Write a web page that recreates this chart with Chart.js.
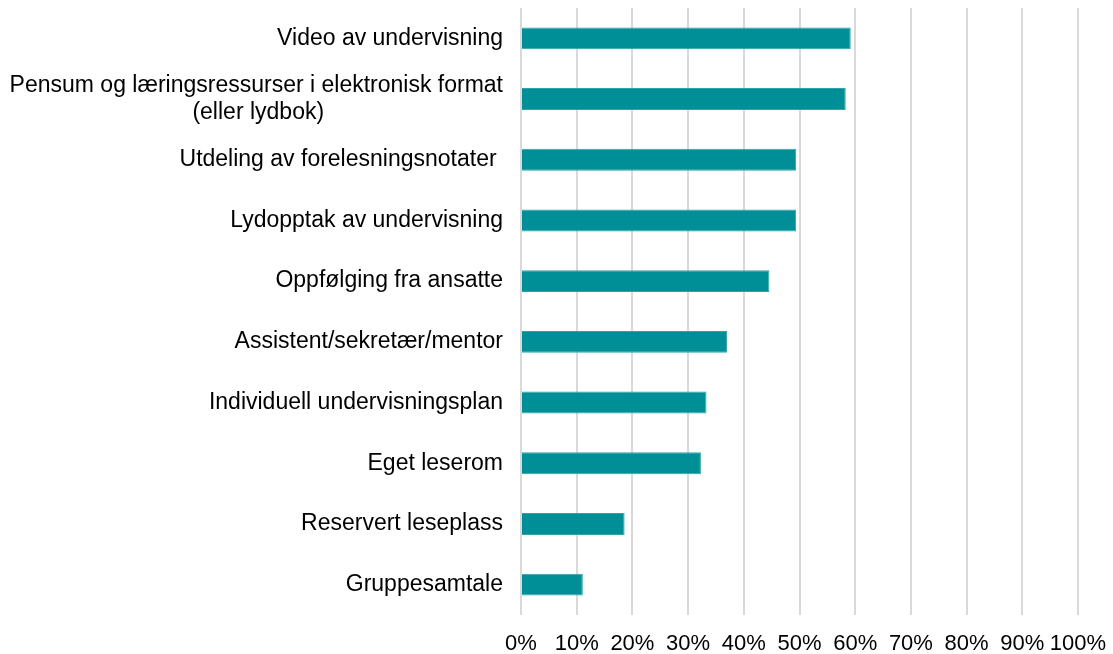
<!DOCTYPE html>
<html>
<head>
<meta charset="utf-8">
<script src="https://cdn.jsdelivr.net/npm/chart.js@4/dist/chart.umd.min.js"></script>
<style>
  html, body { margin: 0; padding: 0; background: #fff; }
  #wrap { width: 1113px; height: 654px; position: relative; }
</style>
</head>
<body>
<div id="wrap"><canvas id="barChart"></canvas></div>
<script>
// categories (top to bottom) and share of respondents in %
var categories = [
    "Video av undervisning",
    ["Pensum og læringsressurser i elektronisk format", "(eller lydbok)"],
    "Utdeling av forelesningsnotater ",
    "Lydopptak av undervisning",
    "Oppfølging fra ansatte",
    "Assistent/sekretær/mentor",
    "Individuell undervisningsplan",
    "Eget leserom",
    "Reservert leseplass",
    "Gruppesamtale"
];
var values = [59.2, 58.3, 49.4, 49.4, 44.6, 37.0, 33.3, 32.3, 18.6, 11.1];
var xTicks = [0, 10, 20, 30, 40, 50, 60, 70, 80, 90, 100];

var labelFont = { family: "'Liberation Sans', Arial, sans-serif", size: 23, lineHeight: 1.17 };
var tickFont = { family: "'Liberation Sans', Arial, sans-serif", size: 22 };

// centre the second line of the two-line label under the first one
var ctx = document.createElement("canvas").getContext("2d");
ctx.font = labelFont.size + "px " + labelFont.family;
categories = categories.map(function (c) {
    if (!Array.isArray(c)) return c;
    var w1 = ctx.measureText(c[0]).width;
    var line2 = c[1];
    while (ctx.measureText(line2 + " ").width <= (w1 + ctx.measureText(c[1]).width) / 2) {
        line2 += " ";
    }
    return [c[0], line2];
});

var barCanvas = document.getElementById("barChart");

var barData = {
    labels: categories,
    datasets: [{
        data: values,
        backgroundColor: "#008f96",
        borderColor: "#2ea3a8",
        borderWidth: 1,
        barPercentage: 0.36,
        categoryPercentage: 1
    }]
};

var chartOptions = {
    indexAxis: 'y',
    responsive: true,
    maintainAspectRatio: false,
    animation: false,
    layout: { padding: { top: 8, right: 35, bottom: 0, left: 0 } },
    plugins: {
        legend: { display: false },
        tooltip: { enabled: false }
    },
    scales: {
        x: {
            min: 0,
            max: 100,
            afterBuildTicks: function (scale) {
                scale.ticks = xTicks.map(function (v) { return { value: v }; });
            },
            afterFit: function (scale) {
                scale.height = 39;
                scale.paddingLeft = 0;
                scale.paddingRight = 0;
            },
            grid: { color: "#d9d9d9", lineWidth: 2, drawTicks: false },
            border: { display: false },
            ticks: {
                padding: 16,
                color: "#000",
                font: tickFont,
                maxRotation: 0,
                autoSkip: false,
                callback: function (v) { return v + "%"; }
            }
        },
        y: {
            afterFit: function (scale) {
                scale.width = 521;
                scale.paddingTop = 0;
                scale.paddingBottom = 0;
            },
            grid: { display: false, drawTicks: false },
            border: { display: false },
            ticks: {
                padding: 18,
                color: "#000",
                font: labelFont,
                autoSkip: false
            }
        }
    }
};

var barChart = new Chart(barCanvas, {
    type: 'bar',
    data: barData,
    options: chartOptions
});
</script>
</body>
</html>
